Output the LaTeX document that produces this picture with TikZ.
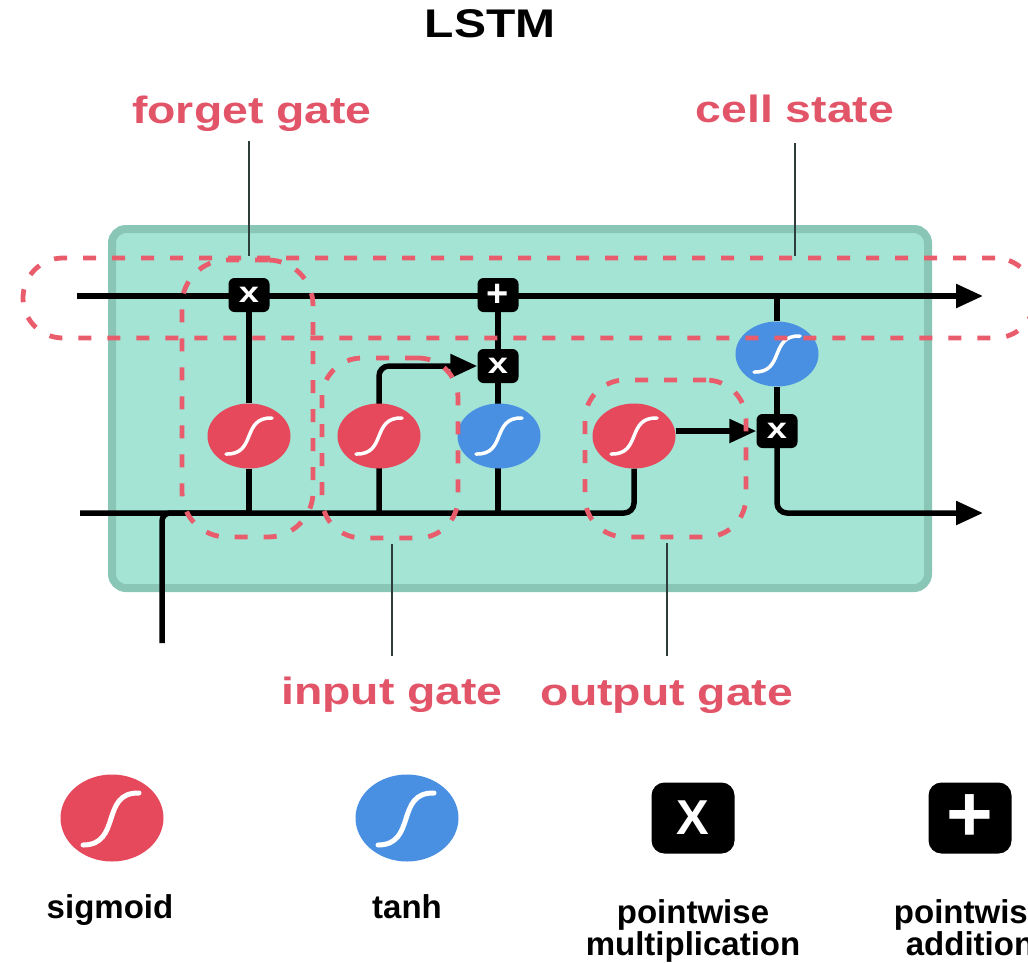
\documentclass[tikz,border=0pt]{standalone}
\usepackage{fontspec}
\setmainfont{Liberation Sans}
\newfontfamily\widefont{Liberation Sans}[FakeStretch=1.22]
\newfontfamily\titlefont{Liberation Sans}[FakeStretch=1.2]
\newfontfamily\opfont{Liberation Sans}[FakeStretch=1.25]
\usetikzlibrary{shapes.geometric,arrows.meta}
\definecolor{sigred}{RGB}{230,72,92}
\definecolor{tanhblue}{RGB}{74,144,226}
\definecolor{labpink}{RGB}{226,84,104}
\definecolor{dashred}{RGB}{232,92,108}
\definecolor{boxfill}{RGB}{163,228,213}
\definecolor{boxedge}{RGB}{138,198,182}
\definecolor{leadc}{RGB}{45,62,58}
\pgfdeclarelayer{boxlayer}
\pgfdeclarelayer{wirelayer}
\pgfdeclarelayer{toplayer}
\pgfsetlayers{boxlayer,wirelayer,main,toplayer}
\tikzset{
  scurve/.style={path picture={\draw[white,line width=3.5pt,line cap=round,shift={(path picture bounding box.center)},scale=#1]
      (-23,18) .. controls (8,19) and (-8,-19) .. (23,-18);}},
  bigcurve/.style={path picture={\draw[white,line width=5pt,line cap=round,shift={(path picture bounding box.center)}]
      (-29,27) .. controls (10,27) and (-12,-26) .. (27,-25);}},
  sig/.style={ellipse,fill=sigred,minimum width=83pt,minimum height=65pt,inner sep=0pt,scurve=1},
  tanhn/.style={ellipse,fill=tanhblue,minimum width=83pt,minimum height=65pt,inner sep=0pt,scurve=1},
  op/.style={rectangle,rounded corners=6pt,fill=black,text=white,minimum width=41pt,minimum height=34pt,inner sep=0pt},
  opx/.style={op,font=\opfont\bfseries\fontsize{29}{29}\selectfont},
  opplus/.style={op,font=\bfseries\fontsize{38}{38}\selectfont},
  wire/.style={draw=black,line width=5.5pt},
  arr/.style={-{Triangle[length=27pt,width=23pt]}},
  gate/.style={draw=dashred,line width=4.8pt,dash pattern=on 13pt off 16pt,rounded corners=40pt,rectangle,inner sep=0pt},
  leader/.style={draw=leadc,line width=2.5pt},
  redlab/.style={text=labpink,font=\widefont\bfseries\fontsize{38}{38}\selectfont,anchor=base,inner sep=0pt},
  legtext/.style={text=black,font=\bfseries\fontsize{33}{33}\selectfont,anchor=base,inner sep=0pt},
}
\begin{document}
\begin{tikzpicture}[x=1pt,y=-1pt]
\useasboundingbox (0,0) rectangle (1028,962);

% title and labels
\node[anchor=base,inner sep=0pt,font=\titlefont\bfseries\fontsize{40}{40}\selectfont] (title) at (490,37) {LSTM};
\node[redlab] (flab) at (252,123) {forget gate};
\node[redlab] (clab) at (795,122) {cell state};
\node[redlab] (ilab) at (392,704) {input gate};
\node[redlab] (olab) at (667,705) {output gate};

% green cell
\begin{pgfonlayer}{boxlayer}
\draw[draw=boxedge,fill=boxfill,line width=8pt,rounded corners=14pt] (112,229) rectangle (928,588);
\end{pgfonlayer}

% operation nodes
\node[opx] (fx) at (249,295) {x};
\node[opplus] (plus) at (498,295) {+};
\node[opx] (ix) at (498,366) {x};
\node[sig] (fs) at (249,436) {};
\node[sig] (is) at (379,436) {};
\node[tanhn] (it) at (499,436) {};
\node[sig] (os) at (634,436) {};
\node[tanhn] (ot) at (777,354) {};
\node[opx] (ox) at (777,431) {x};

\coordinate (ctin) at (77,296);
\coordinate (ctout) at (983,296);
\coordinate (hin) at (80,513);
\coordinate (hout) at (983,513);
\coordinate (xin) at (162,643);

\begin{pgfonlayer}{wirelayer}
\draw[wire,arr] (ctin) -- (ctout);
\draw[wire] (fx) -- (fs);
\draw[wire] (fs) -- (fs |- hin);
\draw[wire] (plus) -- (ix);
\draw[wire] (ix) -- (ix |- hin);
\draw[wire,arr,rounded corners=10pt] (is |- hin) |- (ix.west);
\draw[wire,rounded corners=10pt] (hin) -| (os);
\draw[wire,rounded corners=8pt] (xin) |- (fs |- hin);
\draw[wire,arr] (os.east |- ox) -- (ox.west);
\draw[wire] (ot |- ctin) -- (ot);
\draw[wire] (ot) -- (ox);
\draw[wire,arr,rounded corners=10pt] (ox) |- (hout);
\end{pgfonlayer}

% dashed gate outlines
\begin{pgfonlayer}{toplayer}
\node[gate,minimum width=1012pt,minimum height=80pt] (cgate) at (529,298) {};
\node[gate,minimum width=131pt,minimum height=277pt,rounded corners=45pt] (fgate) at (247.5,398.5) {};
\node[gate,minimum width=136pt,minimum height=180pt] (igate) at (390,448) {};
\node[gate,minimum width=161pt,minimum height=157pt] (ogate) at (665.5,458.5) {};
\end{pgfonlayer}

% leaders
\draw[leader] ([yshift=-18pt]fx |- flab.base) -- (fx |- cgate.north);
\draw[leader] ([yshift=-21pt]clab.base) -- (clab.base |- cgate.north);
\draw[leader] ([yshift=48pt]ilab.base) -- ([yshift=-4pt]ilab.base |- igate.south);
\draw[leader] ([yshift=49pt]olab.base) -- ([yshift=-4pt]olab.base |- ogate.south);

% legend
\node[ellipse,fill=sigred,minimum width=103pt,minimum height=87pt,inner sep=0pt,bigcurve] (lsig) at (112,818) {};
\node[legtext] (lsigt) at (110,918) {sigmoid};
\node[ellipse,fill=tanhblue,minimum width=103pt,minimum height=87pt,inner sep=0pt,bigcurve] (ltanh) at (407,818) {};
\node[legtext] (ltanht) at (407,918) {tanh};
\node[op,minimum width=83pt,minimum height=71pt,rounded corners=13pt,font=\bfseries\fontsize{49}{49}\selectfont] (lmul) at (693,818) {X};
\node[legtext] (lmult1) at (693,923) {pointwise};
\node[legtext] (lmult2) at (693,955) {multiplication};
\node[op,minimum width=83pt,minimum height=71pt,rounded corners=13pt,font=\bfseries\fontsize{80}{80}\selectfont] (ladd) at (970,818) {+};
\node[legtext] (laddt1) at (970,923) {pointwise};
\node[legtext] (laddt2) at (970,955) {addition};
\end{tikzpicture}
\end{document}
